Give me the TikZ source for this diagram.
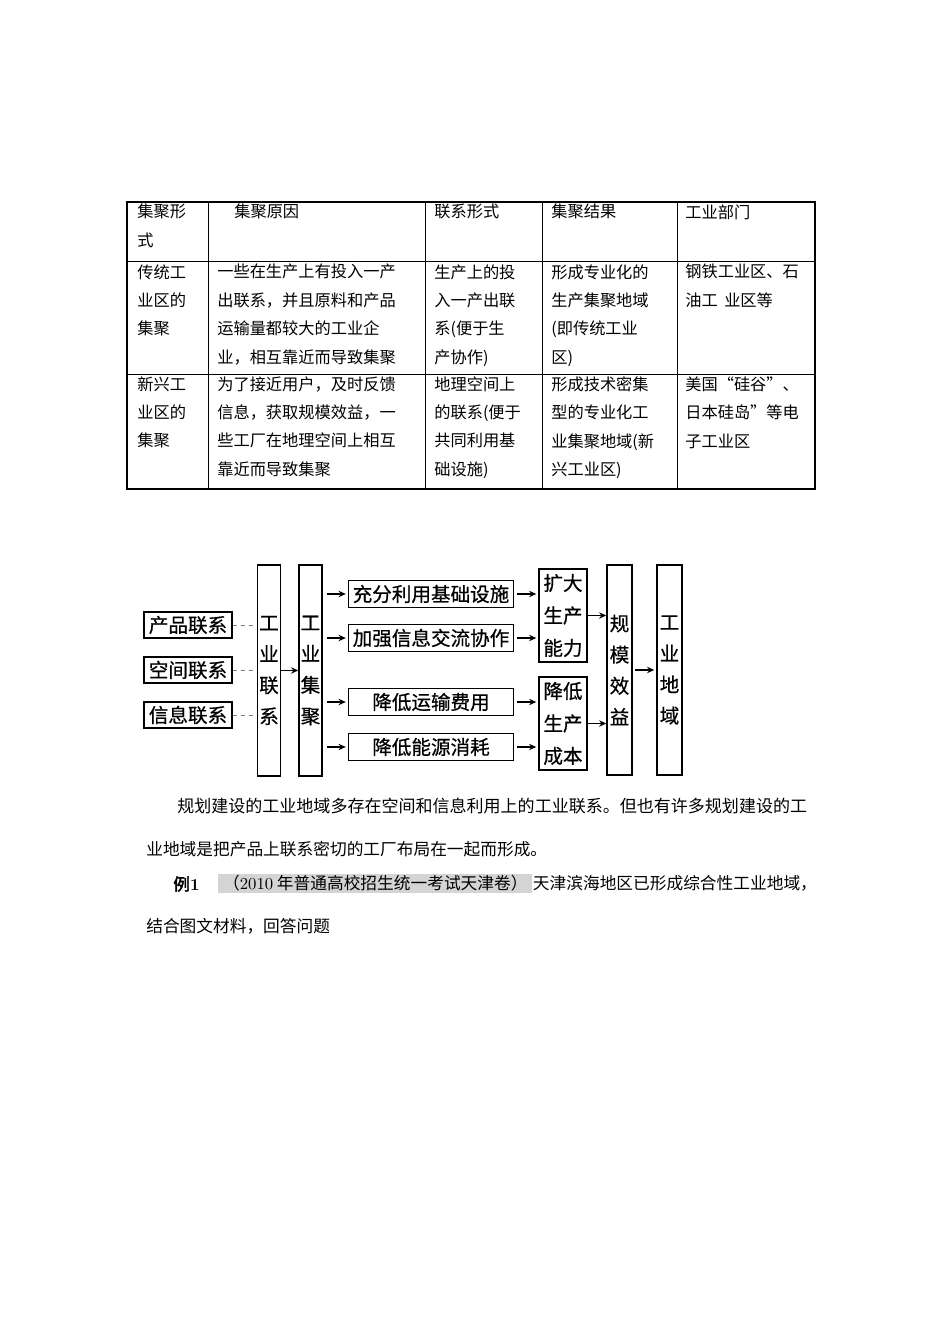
\documentclass[tikz,border=0pt]{standalone}
\usepackage{fontspec}
\newfontfamily\cjk[AutoFakeBold=2.5]{Noto Sans CJK SC}
\newfontfamily\cjkflow[FakeBold=0.6]{Noto Sans CJK SC}
\usepackage{tikz}
\usetikzlibrary{positioning,calc,arrows.meta}

\newcommand{\pxu}{0.0221cm}
\newcommand{\tabfont}{\cjk\fontsize{10.2pt}{17.9pt}\selectfont}
\newcommand{\flowfont}{\cjkflow\fontsize{12.3pt}{19.6pt}\selectfont}
\newcommand{\parfont}{\cjk\fontsize{10.5pt}{12pt}\selectfont}

\tikzset{
  cell/.style={anchor=north west, align=left, inner sep=0pt, font=\tabfont},
  para/.style={anchor=west, inner sep=0pt, font=\parfont},
  smallbox/.style={draw, line width=0.9pt, inner sep=0pt, minimum width=88*\pxu, minimum height=26*\pxu, font=\flowfont},
  widebox/.style={draw, line width=0.9pt, inner sep=0pt, minimum width=165*\pxu, minimum height=27*\pxu, font=\flowfont},
  tallbox/.style={draw, line width=0.9pt, inner sep=0pt, align=center, minimum width=23*\pxu, minimum height=211*\pxu, font=\flowfont},
  midbox/.style={draw, line width=0.9pt, inner sep=0pt, align=center, minimum width=48*\pxu, minimum height=93*\pxu, font={\cjkflow\fontsize{12.3pt}{20.4pt}\selectfont}},
  arr/.style={line width=0.8pt, -{Stealth[length=1.6mm, width=1.4mm]}},
  link/.style={gray, line width=0.5pt, densely dashed}
}

\begin{document}
\begin{tikzpicture}[x=0.0221cm, y=-0.0221cm]
  \useasboundingbox (0,0) rectangle (950,1344);

  % Table grid
  \draw[line width=1pt] (127,202) rectangle (815,489);
  \foreach \x in {208,425,542,677} \draw[line width=0.6pt] (\x,202) -- (\x,489);
  \foreach \y in {261,374} \draw[line width=0.6pt] (127,\y) -- (815,\y);

  % Header row
  \node[cell] (h1) at (137,204) {集聚形\\式};
  \node[cell] (h2) at (234,204) {集聚原因};
  \node[cell] (h3) at (434,204) {联系形式};
  \node[cell] (h4) at (551,204) {集聚结果};
  \node[cell] (h5) at (685,204) {工业部门};

  % Traditional industrial district
  \node[cell] (t1) at (137,264) {传统工\\业区的\\集聚};
  \node[cell] (t2) at (217,264) {一些在生产上有投入一产\\出联系，并且原料和产品\\运输量都较大的工业企\\业，相互靠近而导致集聚};
  \node[cell] (t3) at (434,264) {生产上的投\\入一产出联\\系(便于生\\产协作)};
  \node[cell] (t4) at (551,264) {形成专业化的\\生产集聚地域\\(即传统工业\\区)};
  \node[cell] (t5) at (685,264) {钢铁工业区、石\\油工\hspace{0.4em}业区等};

  % Emerging industrial district
  \node[cell] (n1) at (137,376) {新兴工\\业区的\\集聚};
  \node[cell] (n2) at (217,376) {为了接近用户，及时反馈\\信息，获取规模效益，一\\些工厂在地理空间上相互\\靠近而导致集聚};
  \node[cell] (n3) at (434,376) {地理空间上\\的联系(便于\\共同利用基\\础设施)};
  \node[cell] (n4) at (551,376) {形成技术密集\\型的专业化工\\业集聚地域(新\\兴工业区)};
  \node[cell] (n5) at (685,376) {美国“硅谷”、\\日本硅岛”等电\\子工业区};

  % Linkage boxes
  \node[smallbox] (cplx) at (188,625) {产品联系};
  \node[smallbox] (kjlx) at (188,670) {空间联系};
  \node[smallbox] (xxlx) at (188,715) {信息联系};

  % Tall columns
  \node[tallbox] (gylx) at (269,670.5) {工\\业\\联\\系};
  \node[tallbox] (gyjj) at (310.5,670.5) {工\\业\\集\\聚};
  \node[tallbox, minimum width=25*\pxu, minimum height=210*\pxu] (gmxy) at (619.5,670) {规\\模\\效\\益};
  \node[tallbox, minimum width=25*\pxu, minimum height=210*\pxu] (gydy) at (669.5,670) {工\\业\\地\\域};

  % Effects
  \node[widebox] (jcss) at (431,594) {充分利用基础设施};
  \node[widebox] (xxjl) at (431,638) {加强信息交流协作};
  \node[widebox] (ysfy) at (431,702) {降低运输费用};
  \node[widebox] (nyxh) at (431,747) {降低能源消耗};

  % Results
  \node[midbox] (kdnl) at (563,615.5) {扩大\\生产\\能力};
  \node[midbox] (jdcb) at (563,723.5) {降低\\生产\\成本};

  % Connectors
  \foreach \n in {cplx,kjlx,xxlx}
    \draw[link, shorten >=4*\pxu] (\n.east) -- (gylx.west |- \n);
  \draw[arr] (gylx) -- (gyjj);
  \foreach \n in {jcss,xxjl,ysfy,nyxh}
    \draw[arr, shorten <=4*\pxu, shorten >=2*\pxu] (gyjj.east |- \n) -- (\n.west);
  \foreach \n in {jcss,xxjl}
    \draw[arr, shorten <=3*\pxu, shorten >=2*\pxu] (\n.east) -- (kdnl.west |- \n);
  \foreach \n in {ysfy,nyxh}
    \draw[arr, shorten <=3*\pxu, shorten >=2*\pxu] (\n.east) -- (jdcb.west |- \n);
  \draw[arr] (kdnl.east) -- (gmxy.west |- kdnl);
  \draw[arr] (jdcb.east) -- (gmxy.west |- jdcb);
  \draw[arr, shorten <=2*\pxu, shorten >=2*\pxu] (gmxy) -- (gydy);

  % Text below
  \node[para, font=\cjk\fontsize{10.7pt}{12pt}\selectfont] (p1) at (177,806) {规划建设的工业地域多存在空间和信息利用上的工业联系。但也有许多规划建设的工};
  \node[para] (p2) at (146,849) {业地域是把产品上联系密切的工厂布局在一起而形成。};
  \node[para, font=\parfont\bfseries] (ex) at (173,884) {例{\normalfont\bfseries 1}};
  \node[para, fill=black!17, minimum width=314*\pxu, minimum height=19*\pxu, inner xsep=1pt] (src) at (218,883.5) {（{\normalfont 2010} 年普通高校招生统一考试天津卷）};
  \node[para] (q1) at (src.east) {天津滨海地区已形成综合性工业地域，};
  \node[para] (q2) at (146,926) {结合图文材料，回答问题};
\end{tikzpicture}
\end{document}
